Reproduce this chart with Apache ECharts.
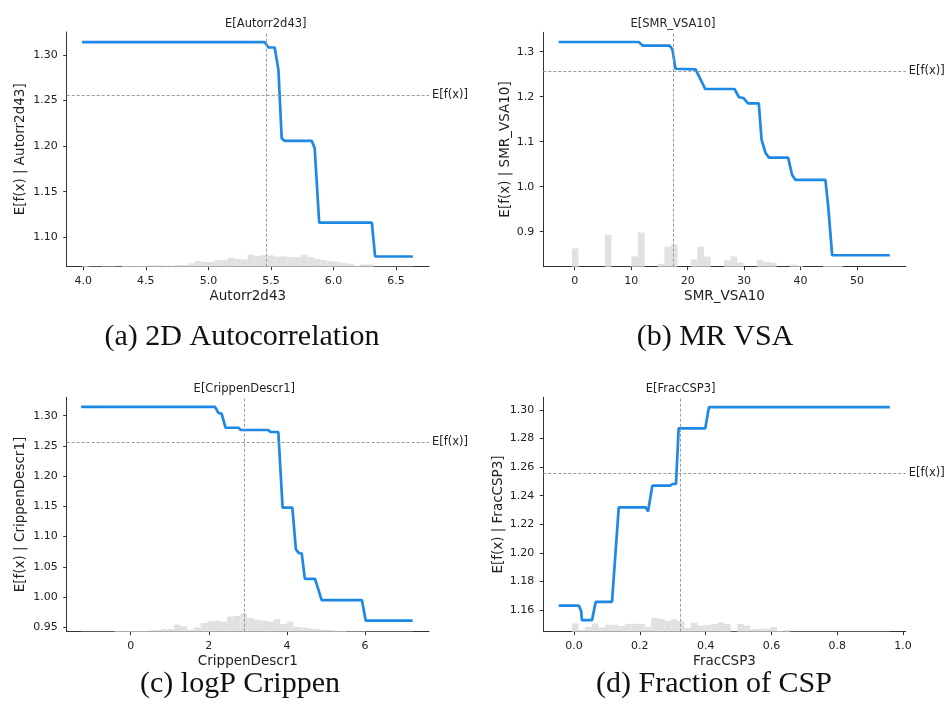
<!DOCTYPE html>
<html>
<head>
<meta charset="utf-8">
<script src="https://cdn.jsdelivr.net/npm/echarts@6/dist/echarts.min.js"></script>
<style>
  html, body { margin: 0; padding: 0; background: #fff; }
  #main { width: 946px; height: 717px; }
</style>
</head>
<body>
<div id="main"></div>
<script>
// partial dependence curves
var autoX = [3.99, 5.45, 5.48, 5.53, 5.56, 5.586, 5.61, 5.827, 5.85, 5.886, 6.307, 6.333, 6.635];
var autoY = [1.314, 1.314, 1.308, 1.308, 1.2835, 1.2086, 1.2056, 1.2056, 1.1976, 1.116, 1.116, 1.079, 1.079];

var vsaX = [-2.85, 11.33, 12.1, 16.8, 17.3, 17.85, 18.2, 21.4, 22.7, 23.1, 28.3, 29.1, 29.9, 30.7, 32.6, 33.1, 33.8, 34.4, 37.8, 38.5, 39.1, 44.4, 44.9, 45.6, 55.8];
var vsaY = [1.3215, 1.3215, 1.3133, 1.3133, 1.305, 1.262, 1.2607, 1.2607, 1.228, 1.217, 1.217, 1.1987, 1.197, 1.185, 1.185, 1.104, 1.075, 1.0645, 1.0645, 1.026, 1.0149, 1.0149, 0.9556, 0.8476, 0.8476];

var crippenX = [-1.27, 2.16, 2.24, 2.33, 2.43, 2.76, 2.82, 3.52, 3.58, 3.78, 3.89, 4.14, 4.23, 4.30, 4.38, 4.46, 4.72, 4.89, 5.92, 6.02, 7.22];
var crippenY = [1.3144, 1.3144, 1.305, 1.303, 1.280, 1.280, 1.2763, 1.2763, 1.273, 1.273, 1.148, 1.148, 1.079, 1.073, 1.072, 1.030, 1.030, 0.995, 0.995, 0.961, 0.961];

var fracX = [-0.0465, 0.0152, 0.022, 0.024, 0.0547, 0.066, 0.1155, 0.136, 0.218, 0.225, 0.238, 0.292, 0.299, 0.31, 0.318, 0.399, 0.41, 0.9596];
var fracY = [1.163, 1.163, 1.159, 1.1529, 1.1529, 1.1657, 1.1657, 1.2319, 1.2319, 1.229, 1.247, 1.247, 1.2482, 1.2482, 1.2872, 1.2872, 1.302, 1.302];

// feature histograms: first bin edge, bin width, counts (out of 1000 samples)
var autoHistStart = 3.99, autoHistWidth = 0.053;
var autoHist = [3,1,1,2,2,1,3,3,3,4, 6,6,4,4,7,7,14,24,20,20, 28,28,38,34,31,52,46,50,48,43, 44,41,41,51,41,34,28,24,21,16, 13,4,10,10,1,1,1,1,1,1];

var vsaHistStart = -0.5, vsaHistWidth = 1.17;
var vsaHist = [78,0,0,0,0,136,0,0,0,44, 146,0,0,12,85,95,0,0,31,85, 43,0,0,27,44,18,0,0,29,21, 17,0,0,9,4,0,0,0,3,3, 3,0,0,0,0,0,0,0,0];

var crippenHistStart = -1.27, crippenHistWidth = 0.17;
var crippenHist = [1,1,1,1,1,3,3,3,3,3, 6,7,12,12,30,23,9,18,37,44, 47,43,64,67,78,58,51,47,43,54, 33,43,21,18,14,12,9,7,4,4, 2,2,2,1,1,1,1,1,1,1];

var fracHistStart = -0.0465, fracHistWidth = 0.0201;
var fracHist = [0,0,35,7,20,35,18,30,29,24, 33,34,33,21,58,54,46,53,44,16, 38,27,29,33,40,33,1,33,26,12, 12,13,20,3,7,1,1,1,1,1, 1,1,1,1,1,1,1,1,1,1];

var sampleCount = 1000;

// expected values
var baseValue = [1.256, 1.257, 1.256, 1.256];
var featureMean = [5.459, 17.4, 2.91, 0.324];

// axis ranges and ticks
var xRanges = [[3.867, 6.764], [-5.56, 58.62], [-1.639, 7.639], [-0.0933, 1.008]];
var yRanges = [[1.0678, 1.325], [0.8222, 1.343], [0.9427, 1.3304], [1.1448, 1.3089]];
var xTicks = [[4.0, 4.5, 5.0, 5.5, 6.0, 6.5], [0, 10, 20, 30, 40, 50], [0, 2, 4, 6], [0.0, 0.2, 0.4, 0.6, 0.8, 1.0]];
var yTicks = [[1.10, 1.15, 1.20, 1.25, 1.30], [0.9, 1.0, 1.1, 1.2, 1.3], [0.95, 1.00, 1.05, 1.10, 1.15, 1.20, 1.25, 1.30], [1.16, 1.18, 1.20, 1.22, 1.24, 1.26, 1.28, 1.30]];
var xDecimals = [1, 0, 0, 1];
var yDecimals = [2, 1, 2, 2];

var featureNames = ['Autorr2d43', 'SMR_VSA10', 'CrippenDescr1', 'FracCSP3'];
var captions = ['(a) 2D Autocorrelation', '(b) MR VSA', '(c) logP Crippen', '(d) Fraction of CSP'];

var curves = [[autoX, autoY], [vsaX, vsaY], [crippenX, crippenY], [fracX, fracY]];
var hists = [
    [autoHistStart, autoHistWidth, autoHist],
    [vsaHistStart, vsaHistWidth, vsaHist],
    [crippenHistStart, crippenHistWidth, crippenHist],
    [fracHistStart, fracHistWidth, fracHist]
];

var grids = [
    { left: 66.7, top: 32, width: 362.3, height: 234.7 },
    { left: 543.3, top: 32.3, width: 362.4, height: 234.4 },
    { left: 66.7, top: 397.3, width: 362.3, height: 234.4 },
    { left: 543.3, top: 397.3, width: 362.4, height: 234.4 }
];
var yNameGap = [39.5, 30, 39, 38];
var captionPos = [[242, 337], [715, 337], [240, 684], [714, 684]];

var FONT = 'DejaVu Sans';
var TXT = '#222';
var AX = '#333';

var xAxes = [], yAxes = [], series = [], graphics = [];

for (var i = 0; i < 4; i++) {
    (function (i) {
        xAxes.push({
            type: 'value',
            gridIndex: i,
            min: xRanges[i][0],
            max: xRanges[i][1],
            name: featureNames[i],
            nameLocation: 'middle',
            nameGap: 23,
            nameTextStyle: { fontFamily: FONT, fontSize: 13.5, color: TXT },
            axisLine: { show: true, onZero: false, lineStyle: { color: AX, width: 1 } },
            axisTick: { show: true, length: 3.5, customValues: xTicks[i], lineStyle: { color: AX } },
            axisLabel: {
                customValues: xTicks[i], margin: 9,
                fontFamily: FONT, fontSize: 11, color: TXT,
                formatter: function (v) { return Number(v).toFixed(xDecimals[i]); }
            },
            splitLine: { show: false }
        });
        yAxes.push({
            type: 'value',
            gridIndex: i,
            min: yRanges[i][0],
            max: yRanges[i][1],
            name: 'E[f(x) | ' + featureNames[i] + ']',
            nameLocation: 'middle',
            nameGap: yNameGap[i],
            nameTextStyle: { fontFamily: FONT, fontSize: 13.5, color: TXT },
            axisLine: { show: true, onZero: false, lineStyle: { color: AX, width: 1 } },
            axisTick: { show: true, length: 3.5, customValues: yTicks[i], lineStyle: { color: AX } },
            axisLabel: {
                customValues: yTicks[i], margin: 9,
                fontFamily: FONT, fontSize: 11, color: TXT,
                formatter: function (v) { return Number(v).toFixed(yDecimals[i]); }
            },
            splitLine: { show: false }
        });
        // hidden count axis for the histogram
        yAxes.push({
            type: 'value', gridIndex: i, min: 0, max: sampleCount, show: false,
            splitLine: { show: false }
        });

        var h = hists[i];
        var histData = h[2].map(function (c, k) {
            return [h[0] + k * h[1], h[0] + (k + 1) * h[1], c];
        });
        series.push({
            type: 'custom',
            xAxisIndex: i,
            yAxisIndex: 2 * i + 1,
            silent: true,
            z: 1,
            data: histData,
            encode: { x: [0, 1], y: 2 },
            renderItem: function (params, api) {
                var p0 = api.coord([api.value(0), 0]);
                var p1 = api.coord([api.value(1), api.value(2)]);
                return {
                    type: 'rect',
                    shape: { x: p0[0], y: p1[1], width: p1[0] - p0[0], height: p0[1] - p1[1] },
                    style: { fill: '#e1e1e1' }
                };
            }
        });

        var cx = curves[i][0], cy = curves[i][1];
        series.push({
            type: 'line',
            xAxisIndex: i,
            yAxisIndex: 2 * i,
            z: 3,
            showSymbol: false,
            silent: true,
            data: cx.map(function (x, k) { return [x, cy[k]]; }),
            lineStyle: { color: '#1E88E5', width: 2.7 },
            markLine: {
                silent: true,
                symbol: 'none',
                precision: 4,
                animation: false,
                lineStyle: { color: '#999', type: [3, 2], width: 1 },
                label: { fontFamily: FONT, fontSize: 11.5, color: TXT },
                data: [
                    { yAxis: baseValue[i], label: { formatter: 'E[f(x)]', position: 'end', distance: 3 } },
                    { xAxis: featureMean[i], label: { formatter: 'E[' + featureNames[i] + ']', position: 'end', distance: 2 } }
                ]
            }
        });

        graphics.push({
            type: 'text',
            x: captionPos[i][0],
            y: captionPos[i][1],
            style: {
                text: captions[i],
                fontFamily: 'Liberation Serif',
                fontSize: 30,
                fill: '#111',
                align: 'center',
                verticalAlign: 'middle'
            }
        });
    })(i);
}

var chart = echarts.init(document.getElementById('main'));
chart.setOption({
    animation: false,
    backgroundColor: '#fff',
    grid: grids,
    xAxis: xAxes,
    yAxis: yAxes,
    series: series,
    graphic: graphics
});
</script>
</body>
</html>
